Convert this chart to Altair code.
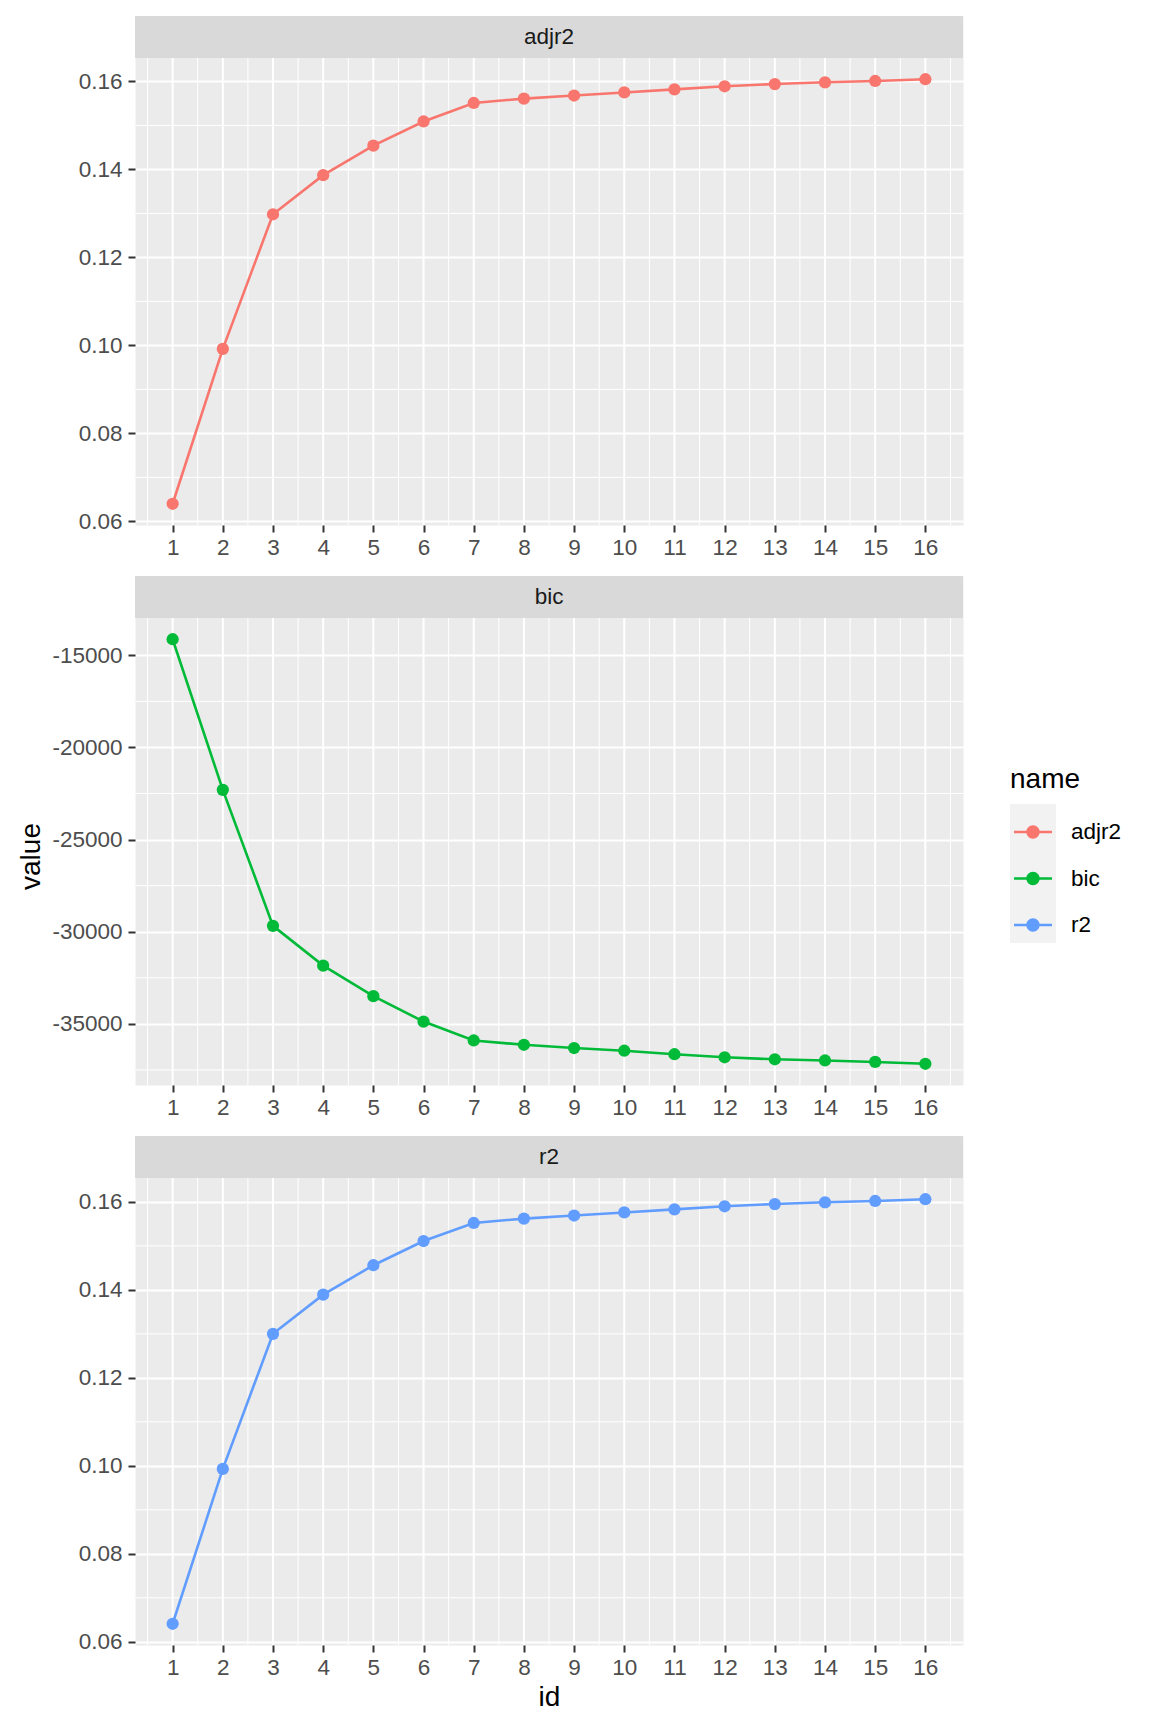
import altair as alt
import pandas as pd

ids = [1, 2, 3, 4, 5, 6, 7, 8, 9, 10, 11, 12, 13, 14, 15, 16]
adjr2 = [0.0640, 0.0992, 0.1298, 0.1387, 0.1454, 0.1509, 0.1551, 0.1561,
         0.1568, 0.1575, 0.1582, 0.1589, 0.1594, 0.1598, 0.1601, 0.1605]
bic = [-14128, -22302, -29681, -31839, -33496, -34875, -35900, -36135,
       -36310, -36458, -36648, -36812, -36922, -36985, -37065, -37165]
r2 = [0.0641, 0.0993, 0.1300, 0.1389, 0.1456, 0.1511, 0.1552, 0.1562,
      0.1569, 0.1576, 0.1583, 0.1590, 0.1595, 0.1599, 0.1602, 0.1606]

names = ["adjr2", "bic", "r2"]
colors = ["#F8766D", "#00BA38", "#619CFF"]

x_ticks = [1, 2, 3, 4, 5, 6, 7, 8, 9, 10, 11, 12, 13, 14, 15, 16]
x_minor = [0.5, 1.5, 2.5, 3.5, 4.5, 5.5, 6.5, 7.5, 8.5, 9.5, 10.5, 11.5,
           12.5, 13.5, 14.5, 15.5, 16.5]
r_ticks = [0.06, 0.08, 0.10, 0.12, 0.14, 0.16]
r_minor = [0.07, 0.09, 0.11, 0.13, 0.15]
bic_ticks = [-35000, -30000, -25000, -20000, -15000]
bic_minor = [-37500, -32500, -27500, -22500, -17500]

rows = []
for nm, vals in zip(names, [adjr2, bic, r2]):
    for i, v in zip(ids, vals):
        rows.append({"id": i, "name": nm, "value": v})
df = pd.DataFrame(rows)

W = 828
H = 467          # plotting panel height
STRIP_H = 42     # facet strip height
TOTAL_H = H + STRIP_H
FONT = "Liberation Sans"

# legend placement (relative to the top-left of the first panel's strip)
LEG_X = 875
LEG_Y = 750
KEY_W = 46
KEY_TOP = 788

# legend key glyph: a short horizontal bar with a dot on it (filled shapes only)
sym_path = ("M-0.826,-0.05H0.826V0.05H-0.826Z"
            "M-0.29,0A0.29,0.29,0,1,1,0.29,0A0.29,0.29,0,1,1,-0.29,0Z")

legend = alt.Legend(
    title="name",
    orient="none",
    legendX=LEG_X,
    legendY=LEG_Y,
    symbolType=sym_path,
    symbolSize=KEY_W * KEY_W,
    symbolStrokeWidth=0,
    labelFontSize=22.5,
    labelColor="black",
    labelFont=FONT,
    titleFont=FONT,
    titleFontSize=28,
    titleColor="black",
    titleFontWeight="normal",
    titlePadding=15,
    labelOffset=15,
    rowPadding=11.5,
)

color_leg = alt.Color("name:N", scale=alt.Scale(domain=names, range=colors),
                      legend=legend)


def panel(name, y_ticks, y_minor, y_title, x_title, bic_labels=False,
          key_bg=False):
    sub = df[df["name"] == name]
    col = colors[names.index(name)]
    lo, hi = sub["value"].min(), sub["value"].max()
    pad = (hi - lo) * 0.05
    xs = alt.Scale(domain=[0.25, 16.75], nice=False, zero=False)
    ys = alt.Scale(domain=[lo - pad, hi + pad], nice=False, zero=False,
                   range=[TOTAL_H, STRIP_H])

    xaxis = alt.Axis(values=x_ticks, labelPadding=4, titlePadding=5,
                     labelAngle=0, labelFlush=False, grid=False)
    if bic_labels:
        yaxis = alt.Axis(values=y_ticks, labelPadding=6, titlePadding=6,
                         labelExpr="'' + datum.value", grid=True,
                         titleY=280)
    else:
        yaxis = alt.Axis(values=y_ticks, labelPadding=6, titlePadding=6,
                         format=".2f", grid=True)

    xenc = alt.X("id:Q", scale=xs, axis=xaxis, title=x_title)
    yenc = alt.Y("value:Q", scale=ys, axis=yaxis, title=y_title)

    vmajor = alt.Chart(pd.DataFrame({"v": x_ticks})).mark_rule(
        color="white", strokeWidth=2
    ).encode(x=alt.X("v:Q", scale=xs, axis=xaxis, title=x_title),
             y=alt.value(STRIP_H), y2=alt.value(TOTAL_H))
    vminor = alt.Chart(pd.DataFrame({"v": x_minor})).mark_rule(
        color="white", strokeWidth=1
    ).encode(x=alt.X("v:Q", scale=xs, axis=xaxis, title=x_title),
             y=alt.value(STRIP_H), y2=alt.value(TOTAL_H))
    hminor = alt.Chart(pd.DataFrame({"v": y_minor})).mark_rule(
        color="white", strokeWidth=1
    ).encode(y=alt.Y("v:Q", scale=ys, axis=yaxis, title=y_title))

    lab = pd.DataFrame({"label": [name]})
    strip_bg = alt.Chart(lab).mark_rect(color="#D9D9D9").encode(
        x=alt.value(0), x2=alt.value(W), y=alt.value(0), y2=alt.value(STRIP_H))
    strip_tx = alt.Chart(lab).mark_text(
        fontSize=22.5, color="#1A1A1A", font=FONT, baseline="middle"
    ).encode(text="label:N", x=alt.value(W / 2), y=alt.value(STRIP_H / 2))

    line = alt.Chart(sub).mark_line(strokeWidth=2.6, color=col).encode(
        x=xenc, y=yenc)
    pts = alt.Chart(sub).mark_point(filled=True, size=150, opacity=1).encode(
        x=xenc, y=yenc, color=color_leg)
    layers = [vminor, vmajor, hminor, strip_bg, strip_tx, line, pts]
    if key_bg:
        # light grey background behind the legend keys (ggplot legend.key)
        keybox = alt.Chart(lab).mark_rect(color="#F2F2F2").encode(
            x=alt.value(LEG_X), x2=alt.value(LEG_X + KEY_W),
            y=alt.value(KEY_TOP), y2=alt.value(KEY_TOP + 3 * KEY_W + 1))
        layers = [keybox] + layers
    return alt.layer(*layers).properties(width=W, height=TOTAL_H)


p1 = panel("adjr2", r_ticks, r_minor, None, None, key_bg=True)
p2 = panel("bic", bic_ticks, bic_minor, "value", None, bic_labels=True)
p3 = panel("r2", r_ticks, r_minor, None, "id")

chart = alt.vconcat(p1, p2, p3, spacing=51, bounds="flush").properties(
    padding={"left": 9, "top": 7, "right": 5, "bottom": 5}
).configure(font=FONT).configure_view(
    fill="#EBEBEB", stroke="transparent"
).configure_axis(
    gridColor="white",
    gridWidth=2,
    domain=False,
    tickColor="#333333",
    tickSize=7,
    tickWidth=2,
    labelColor="#4D4D4D",
    labelFontSize=22.5,
    labelFont=FONT,
    titleFont=FONT,
    titleFontSize=28,
    titleColor="black",
    titleFontWeight="normal",
)

chart.save("out.html", embed_options={"renderer": "svg", "actions": False})
